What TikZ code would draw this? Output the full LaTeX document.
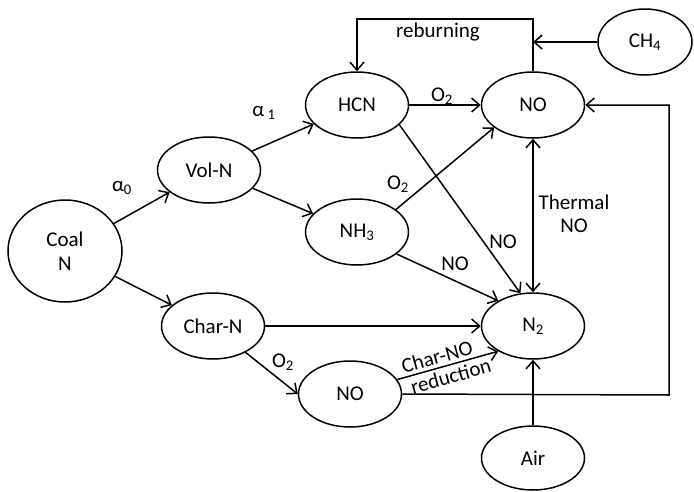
\documentclass[tikz,border=0pt]{standalone}
\usepackage{fontspec}
\setmainfont{Carlito}
\usetikzlibrary{shapes.geometric,arrows.meta}
\tikzset{
  el/.style={draw, ellipse, line width=1.5pt, inner sep=0pt, minimum width=103pt, minimum height=66pt, font=\fontsize{21}{23}\selectfont},
  lbl/.style={inner sep=1pt, font=\fontsize{21}{23}\selectfont},
  conn/.style={line width=1.5pt, -{Straight Barb[length=8pt,width=14pt,line width=1.5pt]}},
  conn2/.style={line width=1.5pt, {Straight Barb[length=8pt,width=14pt,line width=1.5pt]}-{Straight Barb[length=8pt,width=14pt,line width=1.5pt]}},
  plain/.style={line width=1.5pt}
}
\begin{document}
\begin{tikzpicture}[x=1pt,y=-1pt]
\useasboundingbox (0,0) rectangle (694,491);
% nodes
\node[el, minimum width=114pt, minimum height=102pt, align=center] (coal) at (65,251) {Coal\\[1pt]N};
\node[el] (vol) at (209,170) {Vol-N};
\node[el] (hcn) at (357,105) {HCN};
\node[el] (no1) at (533,105) {NO};
\node[el, minimum width=94pt] (ch4) at (645,42) {CH\textsubscript{4}};
\node[el] (nh3) at (357,232) {NH\textsubscript{3}};
\node[el] (n2) at (533,326) {N\textsubscript{2}};
\node[el] (char) at (213,326) {Char-N};
\node[el] (no2) at (350,394) {NO};
\node[el, minimum height=64pt] (air) at (533,458) {Air};
% coordinates
\coordinate (rb) at (533,19);
\coordinate (chj) at (533,42);
\coordinate (rc) at (669,395);
% connectors
\draw[conn] (coal) -- (vol);
\draw[conn] (vol) -- (hcn);
\draw[conn] (vol) -- (nh3);
\draw[conn] (coal) -- (char);
\draw[conn] (hcn.east) -- (no1.west);
\draw[conn] (nh3.30) -- (no1.210);
\draw[conn] (hcn.-25) -- (n2.111);
\draw[conn] (nh3.-29) -- (n2.144);
\draw[conn] (char.east) -- (n2.west);
\draw[conn] (char.-39) -- (no2.west);
\draw[conn] (no2.17) -- node[lbl, midway, above, sloped, inner sep=3pt, xshift=-8pt] (lcn) {Char-NO} node[lbl, midway, below, sloped, inner sep=3pt] (lred) {reduction} (n2.216);
\draw[conn] (no2.east) -- (rc) |- (no1.east);
\draw[conn2] (no1.south) -- (n2.south |- n2.north);
\draw[conn] (air.north) -- (n2.south);
\draw[conn] (no1.north) -- (rb) -| (hcn.north);
\draw[conn] (ch4.west) -- (chj);
% labels
\node[lbl] (la0) at (122,188) {α\textsubscript{0}};
\node[lbl] (la1) at (264,113) {α\,\textsubscript{1}};
\node[lbl] (lo1) at (442,96) {O\textsubscript{2}};
\node[lbl] (lo2) at (398,184) {O\textsubscript{2}};
\node[lbl] (lno1) at (503,242) {NO};
\node[lbl] (lno2) at (455,264) {NO};
\node[lbl] (lo3) at (283,362) {O\textsubscript{2}};
\node[lbl] (lreb) at (438,32) {reburning};
\node[lbl, align=center] (lth) at (574,214) {Thermal\\[0pt]NO};
\end{tikzpicture}
\end{document}
